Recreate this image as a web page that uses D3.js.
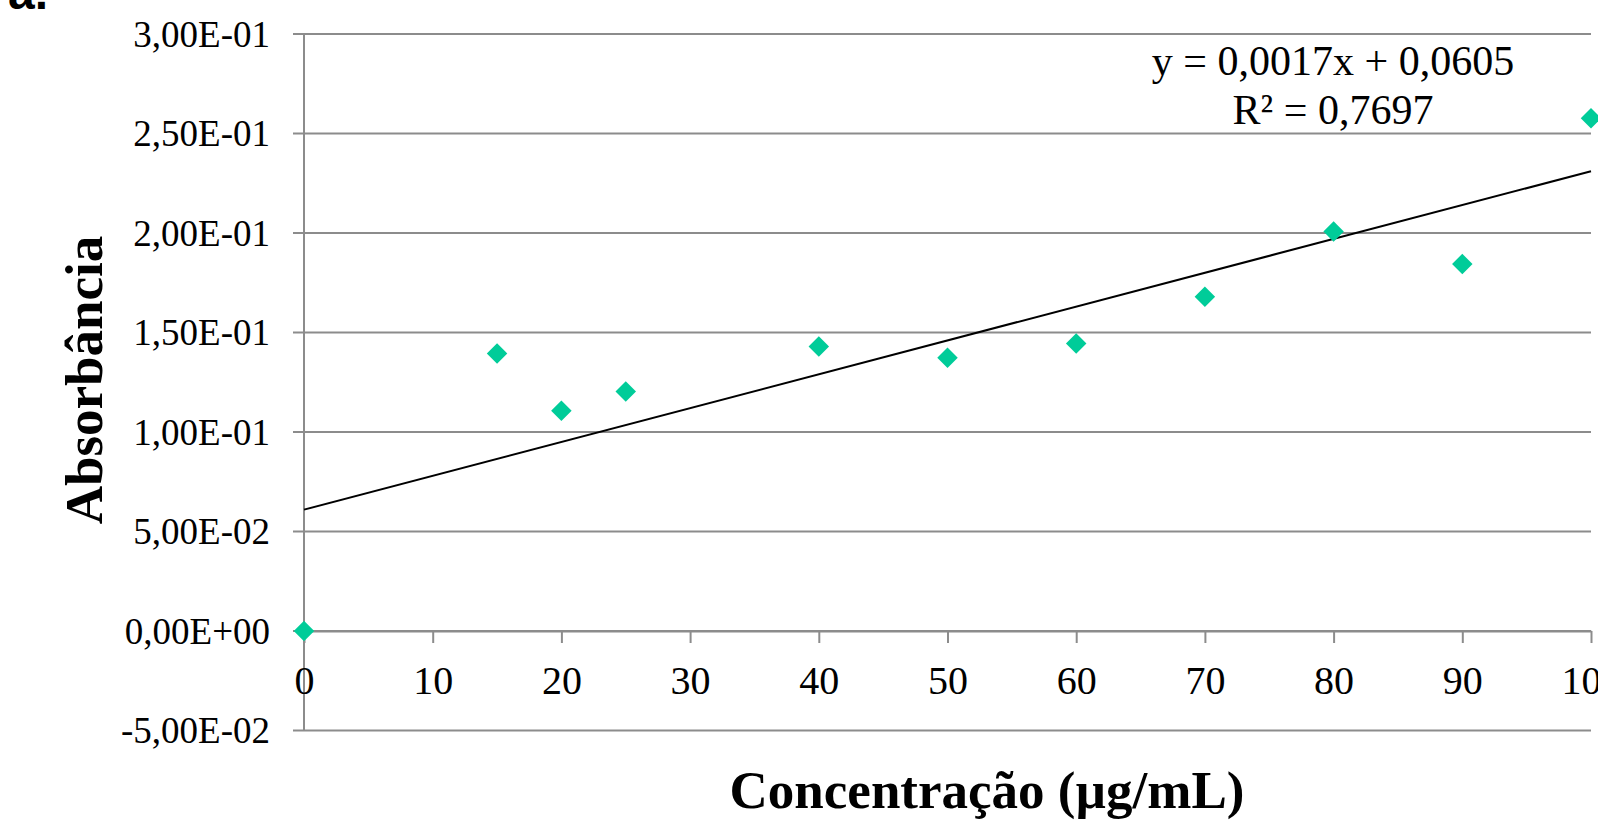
<!DOCTYPE html>
<html>
<head>
<meta charset="utf-8">
<script src="https://cdn.jsdelivr.net/npm/d3@7"></script>
<style>
  body { margin: 0; background: #ffffff; }
  svg { display: block; }
</style>
</head>
<body>
<div id="chart"></div>
<script>

// concentration (ug/mL) and absorbance
var concentration = [0, 15, 20, 25, 40, 50, 60, 70, 80, 90, 100];
var absorbance = [0, 0.1394, 0.1107, 0.1204, 0.1430, 0.1373, 0.1445,
  0.1680, 0.2008, 0.1844, 0.2577];

var xTicks = [0, 10, 20, 30, 40, 50, 60, 70, 80, 90, 100];
var yTicks = [-0.05, 0, 0.05, 0.10, 0.15, 0.20, 0.25, 0.30];
var yTickLabels = ["-5,00E-02", "0,00E+00", "5,00E-02", "1,00E-01",
  "1,50E-01", "2,00E-01", "2,50E-01", "3,00E-01"];
var equationLines = ["y = 0,0017x + 0,0605", "R\u00b2 = 0,7697"];

var width = 1598;
var height = 820;
var gridColor = "#8c8c8c";
var pointColor = "#00cc99";

var x = d3.scaleLinear().domain([0, 100]).range([304, 1591]);
var y = d3.scaleLinear().domain([-0.05, 0.30]).range([730.5, 34]);

var svg = d3.select("#chart")
            .append("svg")
            .attr("width", width)
            .attr("height", height);

// panel letter, cut off at the top like in the figure
svg.append("text")
   .attr("x", 8)
   .attr("y", 9)
   .style("font-family", "'Liberation Sans', Arial, sans-serif")
   .style("font-size", "48px")
   .style("font-weight", "bold")
   .text("a.");

// horizontal gridlines with small ticks sticking out left of the axis
svg.append("g")
   .attr("class", "grid")
 .selectAll("line")
   .data(yTicks)
 .enter().append("line")
   .attr("x1", x(0) - 11)
   .attr("x2", x(100))
   .attr("y1", function(d){ return y(d); })
   .attr("y2", function(d){ return y(d); })
   .style("stroke", gridColor)
   .style("stroke-width", 2);

// vertical axis line
svg.append("line")
   .attr("x1", x(0))
   .attr("x2", x(0))
   .attr("y1", y(0.30))
   .attr("y2", y(-0.05))
   .style("stroke", gridColor)
   .style("stroke-width", 2);

// x axis crosses at zero
var xAxis = d3.axisBottom(x)
              .tickValues(xTicks)
              .tickSize(12)
              .tickSizeOuter(0);

var gx = svg.append("g")
            .attr("transform", "translate(0," + y(0) + ")")
            .call(xAxis);

gx.select(".domain").style("stroke", gridColor).style("stroke-width", 2);
gx.selectAll(".tick line").style("stroke", gridColor).style("stroke-width", 2);
gx.selectAll(".tick text")
  .attr("y", 63)
  .attr("dy", null)
  .style("font-family", "'Liberation Serif', 'Times New Roman', serif")
  .style("font-size", "40px")
  .style("fill", "#000");

// y tick labels
svg.append("g")
   .attr("class", "ylabels")
 .selectAll("text")
   .data(yTicks)
 .enter().append("text")
   .attr("x", 270)
   .attr("y", function(d){ return y(d); })
   .attr("dy", "0.35em")
   .attr("text-anchor", "end")
   .style("font-family", "'Liberation Serif', 'Times New Roman', serif")
   .style("font-size", "37px")
   .text(function(d, i){ return yTickLabels[i]; });

// least squares trendline from the points
var meanX = d3.mean(concentration);
var meanY = d3.mean(absorbance);
var sxy = d3.sum(concentration, function(d, i){
    return (d - meanX) * (absorbance[i] - meanY); });
var sxx = d3.sum(concentration, function(d){ return (d - meanX) * (d - meanX); });
var slope = sxy / sxx;
var intercept = meanY - slope * meanX;

var line = d3.line()
             .x(function(d){ return x(d); })
             .y(function(d){ return y(intercept + slope * d); });

svg.append("path")
   .datum(d3.extent(concentration))
   .attr("d", line)
   .style("fill", "none")
   .style("stroke", "#000")
   .style("stroke-width", 2);

// diamond markers
svg.append("g")
   .attr("class", "points")
 .selectAll("path")
   .data(concentration)
 .enter().append("path")
   .attr("d", d3.symbol().type(d3.symbolSquare).size(210))
   .attr("transform", function(d, i){
       return "translate(" + x(d) + "," + y(absorbance[i]) + ") rotate(45)";
   })
   .style("fill", pointColor);

// equation label
svg.append("g")
   .attr("class", "equation")
 .selectAll("text")
   .data(equationLines)
 .enter().append("text")
   .attr("x", 1333)
   .attr("y", function(d, i){ return 75 + i * 49; })
   .attr("text-anchor", "middle")
   .style("font-family", "'Liberation Serif', 'Times New Roman', serif")
   .style("font-size", "42px")
   .text(function(d){ return d; });

// axis titles
svg.append("text")
   .attr("x", 987)
   .attr("y", 808)
   .attr("text-anchor", "middle")
   .style("font-family", "'Liberation Serif', 'Times New Roman', serif")
   .style("font-size", "53px")
   .style("font-weight", "bold")
   .text("Concentração (µg/mL)");

svg.append("text")
   .attr("transform", "translate(102,380) rotate(-90)")
   .attr("text-anchor", "middle")
   .style("font-family", "'Liberation Serif', 'Times New Roman', serif")
   .style("font-size", "53px")
   .style("font-weight", "bold")
   .text("Absorbância");

</script>
</body>
</html>
